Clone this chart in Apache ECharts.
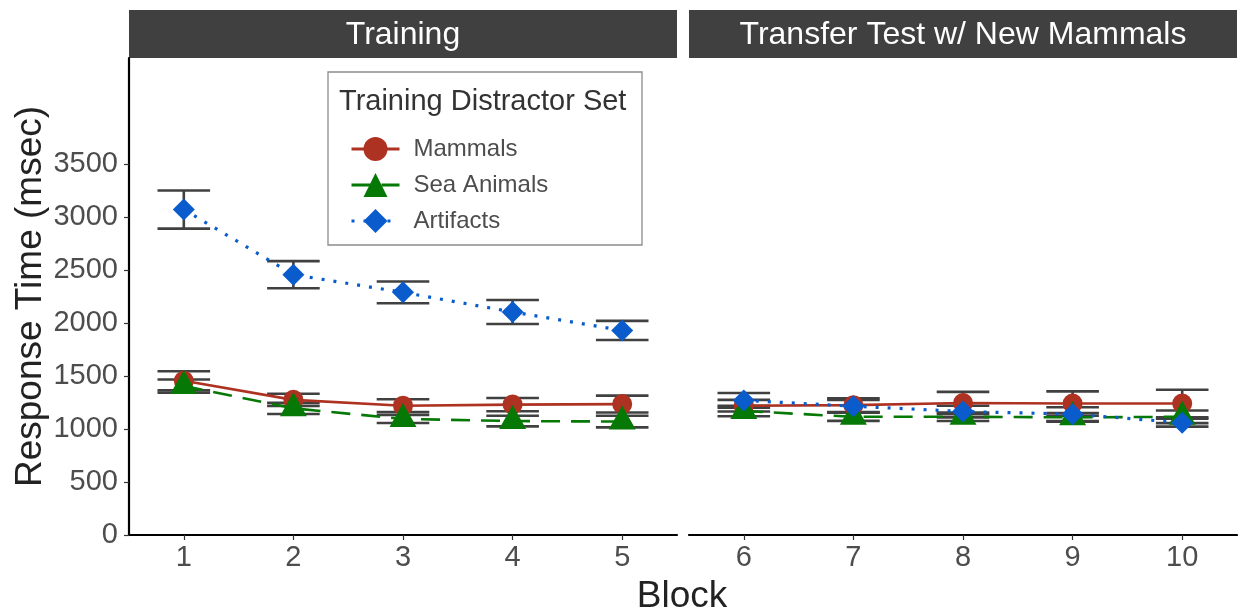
<!DOCTYPE html>
<html>
<head>
<meta charset="utf-8">
<script src="https://cdn.jsdelivr.net/npm/echarts@6/dist/echarts.min.js"></script>
<style>
  html, body { margin: 0; padding: 0; background: #ffffff; }
  #chart { width: 1238px; height: 612px; }
</style>
</head>
<body>
<div id="chart"></div>
<script>
// Blocks shown in each facet
const trainingBlocks = ['1', '2', '3', '4', '5'];
const transferBlocks = ['6', '7', '8', '9', '10'];

// Facet titles
const facetTitles = ['Training', 'Transfer Test w/ New Mammals'];

// Group names (training distractor set)
const groupNames = ['Mammals', 'Sea Animals', 'Artifacts'];

// Mean response time (msec) per block 1..10, and standard error
const mammalsMean = [1455, 1275, 1220, 1230, 1235, 1220, 1225, 1245, 1240, 1240];
const mammalsErr  = [90, 57, 60, 62, 80, 55, 65, 105, 115, 130];
const seaMean     = [1405, 1195, 1095, 1075, 1070, 1170, 1115, 1115, 1110, 1115];
const seaErr      = [62, 53, 38, 50, 55, 50, 38, 40, 40, 60];
const artMean     = [3070, 2456, 2289, 2104, 1930, 1270, 1215, 1165, 1140, 1060];
const artErr      = [180, 128, 103, 113, 90, 70, 60, 55, 65, 38];

// Y tick labels
const yTicks = [0, 500, 1000, 1500, 2000, 2500, 3000, 3500];

const colors = ['#AE3222', '#067806', '#0A5CCC'];
const means = [mammalsMean, seaMean, artMean];
const errs = [mammalsErr, seaErr, artErr];

const chart = echarts.init(document.getElementById('chart'), null, { renderer: 'canvas' });

const FONT = 'Liberation Sans, Arial, sans-serif';
const GRID_TOP = 58, GRID_H = 477, GRID_W = 548;
const LEFT_X = [129, 689];

function sliceFor(panel, arr) {
  return panel === 0 ? arr.slice(0, 5) : arr.slice(5, 10);
}

function errorRows(panel) {
  const rows = [];
  for (let g = 0; g < 3; g++) {
    const m = sliceFor(panel, means[g]);
    const e = sliceFor(panel, errs[g]);
    for (let i = 0; i < 5; i++) rows.push([i, m[i] - e[i], m[i] + e[i]]);
  }
  return rows;
}

// Error bar: vertical stem with a cap at each end
function renderErr(params, api) {
  const x = api.value(0);
  const lo = api.coord([x, api.value(1)]);
  const hi = api.coord([x, api.value(2)]);
  const half = api.size([1, 0])[0] * 0.24;
  const style = { stroke: '#404040', lineWidth: 2.6 };
  return {
    type: 'group',
    children: [
      { type: 'line', shape: { x1: hi[0], y1: hi[1], x2: lo[0], y2: lo[1] }, style: style },
      { type: 'line', shape: { x1: hi[0] - half, y1: hi[1], x2: hi[0] + half, y2: hi[1] }, style: style },
      { type: 'line', shape: { x1: lo[0] - half, y1: lo[1], x2: lo[0] + half, y2: lo[1] }, style: style }
    ]
  };
}

const lineTypes = ['solid', [19, 11], [3, 9]];
const lineWidths = [2.6, 2.6, 3.2];
const symbols = ['circle', 'triangle', 'diamond'];
const symbolSizes = [20, [27, 24], [22, 22]];
const symbolOffsets = [[0, 0], [0, -4], [0, 0]];

const series = [];
for (let p = 0; p < 2; p++) {
  series.push({
    type: 'custom',
    xAxisIndex: p,
    yAxisIndex: p,
    renderItem: renderErr,
    encode: { x: 0, y: [1, 2] },
    data: errorRows(p),
    z: 1,
    silent: true
  });
}
for (let p = 0; p < 2; p++) {
  for (let g = 0; g < 3; g++) {
    series.push({
      name: groupNames[g],
      type: 'line',
      xAxisIndex: p,
      yAxisIndex: p,
      data: sliceFor(p, means[g]),
      symbol: symbols[g],
      symbolSize: symbolSizes[g],
      symbolOffset: symbolOffsets[g],
      showSymbol: true,
      color: colors[g],
      itemStyle: { color: colors[g] },
      lineStyle: { color: colors[g], width: lineWidths[g], type: lineTypes[g], cap: 'butt' },
      z: 3 + g,
      animation: false
    });
  }
}

function xAxisFor(p) {
  return {
    type: 'category',
    gridIndex: p,
    data: p === 0 ? trainingBlocks : transferBlocks,
    boundaryGap: true,
    axisLine: { show: true, lineStyle: { color: '#000', width: 2.2 } },
    axisTick: { show: true, alignWithLabel: true, length: 5, lineStyle: { color: '#333', width: 1.2 } },
    axisLabel: { color: '#4D4D4D', fontSize: 29, fontFamily: FONT, margin: 8 },
    splitLine: { show: false }
  };
}

function yAxisFor(p) {
  const base = {
    type: 'value',
    gridIndex: p,
    min: 0,
    max: 4500,
    interval: 500,
    splitLine: { show: false }
  };
  if (p === 1) {
    return Object.assign(base, {
      axisLine: { show: false },
      axisTick: { show: false },
      axisLabel: { show: false }
    });
  }
  return Object.assign(base, {
    name: 'Response Time (msec)',
    nameLocation: 'middle',
    nameGap: 70,
    nameTextStyle: { color: '#222', fontSize: 37, fontFamily: FONT },
    axisLine: { show: true, lineStyle: { color: '#000', width: 2.2 } },
    axisTick: { show: true, length: 5, customValues: yTicks, lineStyle: { color: '#333', width: 1.2 } },
    axisLabel: {
      color: '#4D4D4D', fontSize: 29, fontFamily: FONT, margin: 11,
      customValues: yTicks,
      formatter: function (v) { return String(v); }
    }
  });
}

const graphics = [];
for (let p = 0; p < 2; p++) {
  graphics.push({
    type: 'rect',
    shape: { x: LEFT_X[p], y: 10, width: GRID_W, height: 48 },
    style: { fill: '#404040' },
    silent: true
  });
  graphics.push({
    type: 'text',
    x: LEFT_X[p] + GRID_W / 2,
    y: 35,
    style: {
      text: facetTitles[p], fill: '#ffffff', font: '32px ' + FONT,
      textAlign: 'center', textVerticalAlign: 'middle'
    },
    silent: true
  });
}
// Legend frame and title
graphics.push({
  type: 'rect',
  shape: { x: 328, y: 72, width: 314, height: 173 },
  style: { fill: '#ffffff', stroke: '#8C8C8C', lineWidth: 1.3 },
  z: -1,
  silent: true
});
graphics.push({
  type: 'text',
  x: 339,
  y: 102,
  style: {
    text: 'Training Distractor Set', fill: '#333333', font: '29px ' + FONT,
    textAlign: 'left', textVerticalAlign: 'middle'
  },
  silent: true
});
// Shared x axis title
graphics.push({
  type: 'text',
  x: 682,
  y: 597,
  style: {
    text: 'Block', fill: '#222222', font: '37px ' + FONT,
    textAlign: 'center', textVerticalAlign: 'middle'
  },
  silent: true
});

chart.setOption({
  animation: false,
  backgroundColor: '#ffffff',
  grid: [
    { left: LEFT_X[0], top: GRID_TOP, width: GRID_W, height: GRID_H },
    { left: LEFT_X[1], top: GRID_TOP, width: GRID_W, height: GRID_H }
  ],
  xAxis: [xAxisFor(0), xAxisFor(1)],
  yAxis: [yAxisFor(0), yAxisFor(1)],
  legend: {
    data: groupNames,
    orient: 'vertical',
    left: 345,
    top: 132,
    itemWidth: 48,
    itemHeight: 30,
    itemGap: 12,
    selectedMode: false,
    lineStyle: { width: 3 },
    textStyle: { color: '#4D4D4D', fontSize: 24, fontFamily: FONT, padding: [0, 0, 0, 9] }
  },
  graphic: graphics,
  series: series
});
</script>
</body>
</html>
